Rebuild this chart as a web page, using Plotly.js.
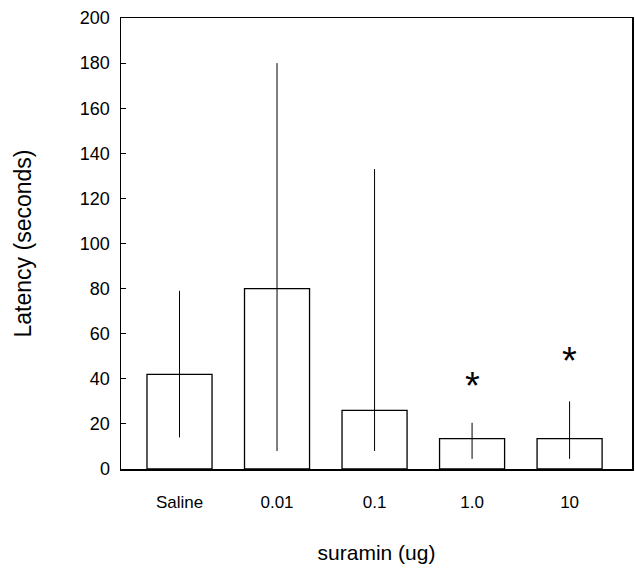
<!DOCTYPE html>
<html>
<head>
<meta charset="utf-8">
<script src="https://cdn.plot.ly/plotly-3.0.1.min.js"></script>
<style>html,body{margin:0;padding:0;background:#fff;}#chart{width:635px;height:574px;}</style>
</head>
<body>
<div id="chart"></div>
<script>
var categories = ["Saline", "0.01", "0.1", "1.0", "10"];
var latency = [42, 80, 26, 13.5, 13.5];
var errUpper = [37, 100, 107, 7, 16.5];
var errLower = [28, 72, 18, 9, 9];
var sigLabels = ["", "", "", "*", "*"];
var sigHeights = [0, 0, 0, 37, 48];
var yTicks = [0, 20, 40, 60, 80, 100, 120, 140, 160, 180, 200];

var font = "Liberation Sans, Arial, Helvetica, sans-serif";

var trace = {
  type: "bar",
  x: categories,
  y: latency,
  width: 0.667,
  marker: {color: "#ffffff", line: {color: "#000000", width: 1.3}},
  error_y: {type: "data", symmetric: false, array: errUpper, arrayminus: errLower,
            color: "#000000", thickness: 1, width: 0},
  hoverinfo: "none"
};

var annotations = [];
for (var i = 0; i < categories.length; i++) {
  if (sigLabels[i]) {
    annotations.push({x: i, y: sigHeights[i], xref: "x", yref: "y",
      text: sigLabels[i], showarrow: false, font: {family: font, size: 38, color: "#000"}});
  }
}

var layout = {
  width: 635, height: 574,
  margin: {l: 121, r: 3, t: 18, b: 105},
  paper_bgcolor: "#fff", plot_bgcolor: "#fff",
  showlegend: false,
  font: {family: font, color: "#000"},
  xaxis: {
    type: "category", range: [-0.6, 4.64],
    showline: true, linecolor: "#000", linewidth: 1.5, mirror: true,
    showgrid: false, ticks: "", ticklabelstandoff: 17,
    tickfont: {family: font, size: 17, color: "#000"},
    title: {text: "suramin (ug)", font: {family: font, size: 21, color: "#000"}, standoff: 34}
  },
  yaxis: {
    range: [0, 200], tickvals: yTicks,
    showline: true, linecolor: "#000", linewidth: 1.5, mirror: true,
    showgrid: false, zeroline: false,
    ticks: "inside", ticklen: 5, tickcolor: "#000", tickwidth: 1,
    ticklabelstandoff: 6,
    tickfont: {family: font, size: 18, color: "#000"},
    title: {text: "Latency (seconds)", font: {family: font, size: 23, color: "#000"}, standoff: 42}
  },
  annotations: annotations
};

Plotly.newPlot("chart", [trace], layout, {displayModeBar: false, staticPlot: true});
</script>
</body>
</html>
